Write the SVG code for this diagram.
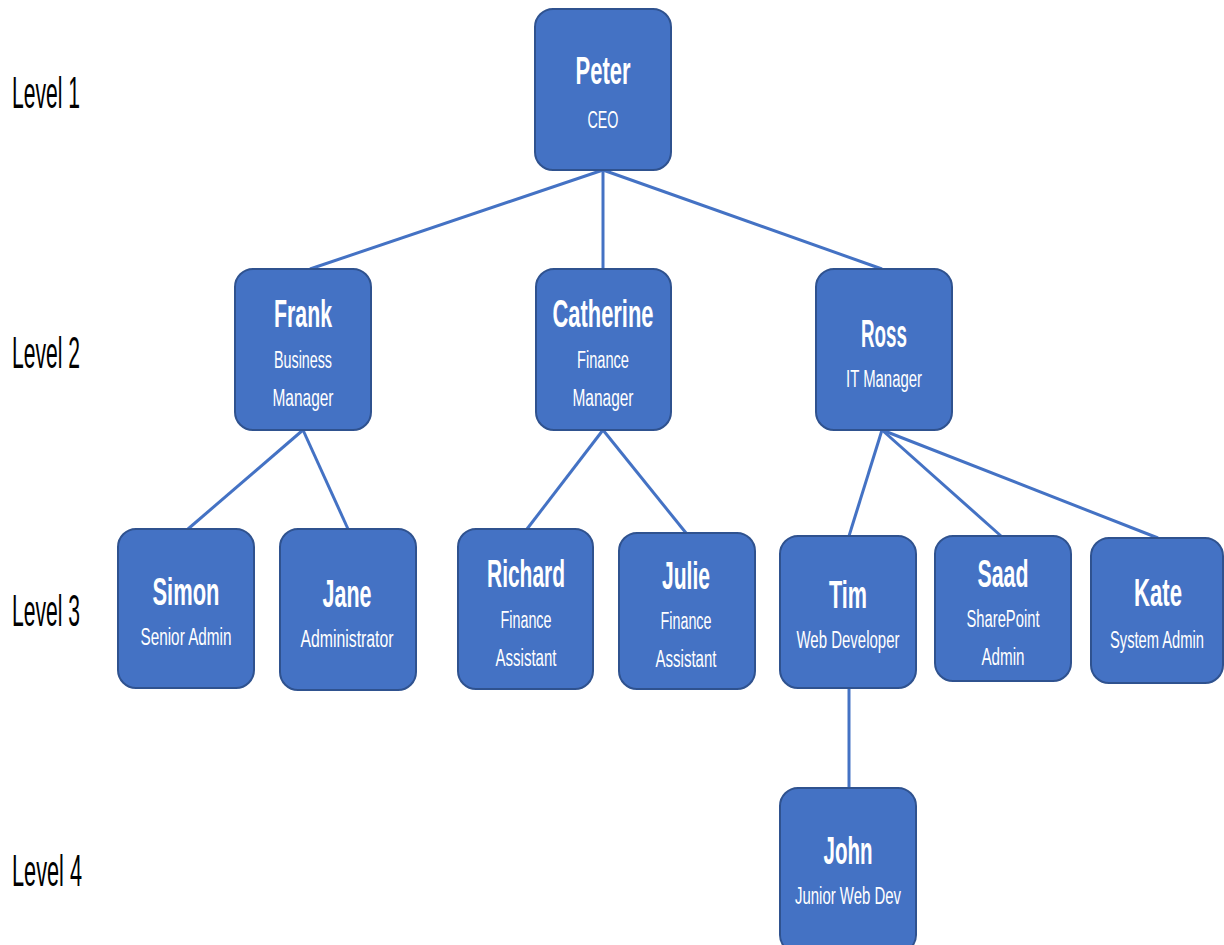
<svg xmlns="http://www.w3.org/2000/svg" width="1224" height="945" viewBox="0 0 1224 945">
  <style>
    .box { fill: #4472C4; stroke: #2F528F; stroke-width: 2; }
    .name { font-family: "Liberation Sans", Arial, sans-serif; font-weight: bold; font-size: 38px; fill: #FFFFFF; text-anchor: middle; }
    .role { font-family: "Liberation Sans", Arial, sans-serif; font-size: 23px; fill: #FFFFFF; text-anchor: middle; }
    .level { font-family: "Liberation Sans", Arial, sans-serif; font-size: 44px; fill: #000000; }
    .link { stroke: #4472C4; stroke-width: 3; fill: none; }
  </style>
  <rect width="1224" height="945" fill="#FFFFFF"/>

  <!-- level captions -->
  <g id="levels">
    <text class="level" x="12" y="108" textLength="68" lengthAdjust="spacingAndGlyphs">Level 1</text>
    <text class="level" x="12" y="368" textLength="68" lengthAdjust="spacingAndGlyphs">Level 2</text>
    <text class="level" x="12" y="626" textLength="68" lengthAdjust="spacingAndGlyphs">Level 3</text>
    <text class="level" x="12" y="886" textLength="70" lengthAdjust="spacingAndGlyphs">Level 4</text>
  </g>

  <!-- reporting lines -->
  <g id="connectors">
    <line class="link" x1="603" y1="170" x2="310" y2="269"/>
    <line class="link" x1="603" y1="170" x2="603" y2="269"/>
    <line class="link" x1="603" y1="170" x2="882" y2="269"/>
    <line class="link" x1="303" y1="430" x2="188" y2="529"/>
    <line class="link" x1="303" y1="430" x2="348" y2="529"/>
    <line class="link" x1="603" y1="430" x2="527" y2="529"/>
    <line class="link" x1="603" y1="430" x2="686" y2="533"/>
    <line class="link" x1="882" y1="430" x2="849" y2="536"/>
    <line class="link" x1="882" y1="430" x2="1001" y2="536"/>
    <line class="link" x1="882" y1="430" x2="1158" y2="538"/>
    <line class="link" x1="849" y1="688" x2="849" y2="788"/>
  </g>

  <g id="peter">
    <rect class="box" x="535" y="9" width="136" height="161" rx="18"/>
    <text class="name" x="603" y="84" textLength="55" lengthAdjust="spacingAndGlyphs">Peter</text>
    <text class="role" x="603" y="128" textLength="31" lengthAdjust="spacingAndGlyphs">CEO</text>
  </g>

  <g id="frank">
    <rect class="box" x="235" y="269" width="136" height="161" rx="18"/>
    <text class="name" x="303" y="327" textLength="58" lengthAdjust="spacingAndGlyphs">Frank</text>
    <text class="role" x="303" y="368" textLength="58" lengthAdjust="spacingAndGlyphs">Business</text>
    <text class="role" x="303" y="406" textLength="61" lengthAdjust="spacingAndGlyphs">Manager</text>
  </g>

  <g id="catherine">
    <rect class="box" x="536" y="269" width="135" height="161" rx="18"/>
    <text class="name" x="603" y="327" textLength="101" lengthAdjust="spacingAndGlyphs">Catherine</text>
    <text class="role" x="603" y="368" textLength="52" lengthAdjust="spacingAndGlyphs">Finance</text>
    <text class="role" x="603" y="406" textLength="61" lengthAdjust="spacingAndGlyphs">Manager</text>
  </g>

  <g id="ross">
    <rect class="box" x="816" y="269" width="136" height="161" rx="18"/>
    <text class="name" x="884" y="347" textLength="46" lengthAdjust="spacingAndGlyphs">Ross</text>
    <text class="role" x="884" y="387" textLength="76" lengthAdjust="spacingAndGlyphs">IT Manager</text>
  </g>

  <g id="simon">
    <rect class="box" x="118" y="529" width="136" height="159" rx="18"/>
    <text class="name" x="186" y="605" textLength="67" lengthAdjust="spacingAndGlyphs">Simon</text>
    <text class="role" x="186" y="645" textLength="91" lengthAdjust="spacingAndGlyphs">Senior Admin</text>
  </g>

  <g id="jane">
    <rect class="box" x="280" y="529" width="136" height="161" rx="18"/>
    <text class="name" x="347" y="607" textLength="49" lengthAdjust="spacingAndGlyphs">Jane</text>
    <text class="role" x="347" y="647" textLength="93" lengthAdjust="spacingAndGlyphs">Administrator</text>
  </g>

  <g id="richard">
    <rect class="box" x="458" y="529" width="135" height="160" rx="18"/>
    <text class="name" x="526" y="587" textLength="78" lengthAdjust="spacingAndGlyphs">Richard</text>
    <text class="role" x="526" y="628" textLength="51" lengthAdjust="spacingAndGlyphs">Finance</text>
    <text class="role" x="526" y="666" textLength="61" lengthAdjust="spacingAndGlyphs">Assistant</text>
  </g>

  <g id="julie">
    <rect class="box" x="619" y="533" width="136" height="156" rx="18"/>
    <text class="name" x="686" y="589" textLength="48" lengthAdjust="spacingAndGlyphs">Julie</text>
    <text class="role" x="686" y="629" textLength="51" lengthAdjust="spacingAndGlyphs">Finance</text>
    <text class="role" x="686" y="667" textLength="61" lengthAdjust="spacingAndGlyphs">Assistant</text>
  </g>

  <g id="tim">
    <rect class="box" x="780" y="536" width="136" height="152" rx="18"/>
    <text class="name" x="848" y="608" textLength="38" lengthAdjust="spacingAndGlyphs">Tim</text>
    <text class="role" x="848" y="648" textLength="103" lengthAdjust="spacingAndGlyphs">Web Developer</text>
  </g>

  <g id="saad">
    <rect class="box" x="935" y="536" width="136" height="145" rx="18"/>
    <text class="name" x="1003" y="587" textLength="51" lengthAdjust="spacingAndGlyphs">Saad</text>
    <text class="role" x="1003" y="627" textLength="73" lengthAdjust="spacingAndGlyphs">SharePoint</text>
    <text class="role" x="1003" y="665" textLength="43" lengthAdjust="spacingAndGlyphs">Admin</text>
  </g>

  <g id="kate">
    <rect class="box" x="1091" y="538" width="132" height="145" rx="18"/>
    <text class="name" x="1158" y="606" textLength="48" lengthAdjust="spacingAndGlyphs">Kate</text>
    <text class="role" x="1157" y="648" textLength="94" lengthAdjust="spacingAndGlyphs">System Admin</text>
  </g>

  <g id="john">
    <rect class="box" x="780" y="788" width="136" height="165" rx="18"/>
    <text class="name" x="848" y="864" textLength="49" lengthAdjust="spacingAndGlyphs">John</text>
    <text class="role" x="848" y="904" textLength="106" lengthAdjust="spacingAndGlyphs">Junior Web Dev</text>
  </g>
</svg>
